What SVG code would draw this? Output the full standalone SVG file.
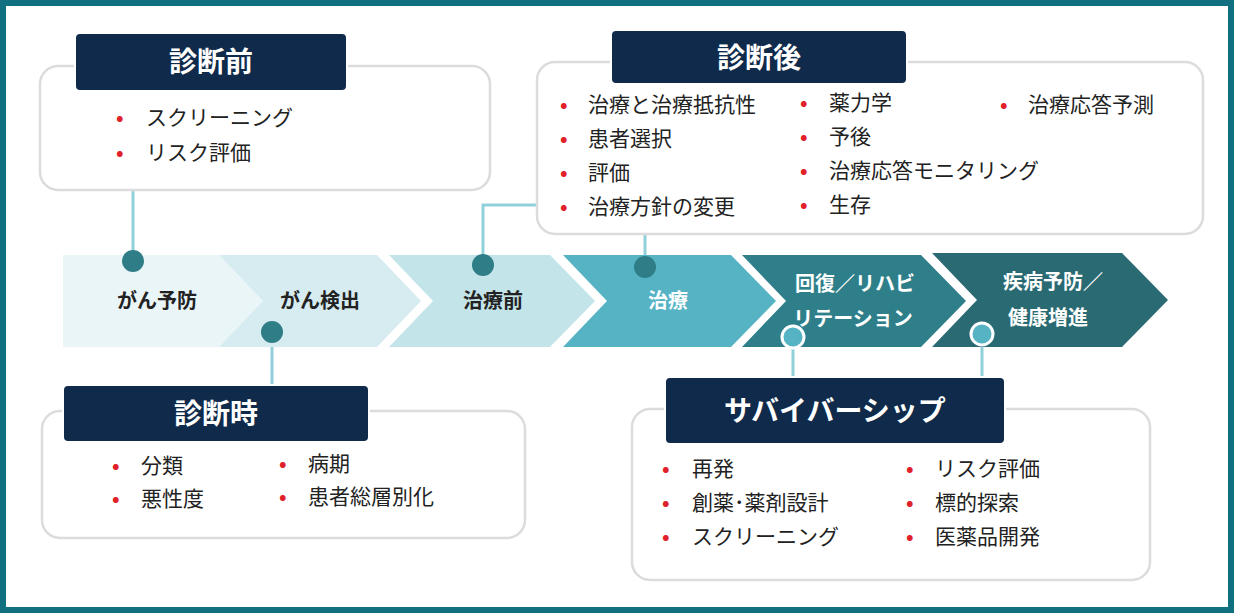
<svg xmlns="http://www.w3.org/2000/svg" width="1234" height="613" viewBox="0 0 1234 613">
<style>
text{font-family:"Noto Sans CJK JP","Noto Sans",sans-serif}
.box{fill:#fff;stroke:#dcdcdc;stroke-width:2.5}
.lbl{fill:#0f2a4a;stroke:#fff;stroke-width:2}
.lt{fill:#fff;font-size:28px;font-weight:bold;text-anchor:middle}
.it{fill:#222;font-size:21px}
.bl{fill:#e0202a;font-size:20px;font-weight:bold}
.st{font-size:20px;font-weight:bold;text-anchor:middle}
.ln{stroke:#8fd0da;stroke-width:3;fill:none}
.dd{fill:#2e7d87}
.hd{fill:#56b3c4;stroke:#fff;stroke-width:3}
</style>
<rect x="3" y="3" width="1228" height="607" fill="#fff" stroke="#11707f" stroke-width="6"/>
<g id="connectors">
<path class="ln" d="M133 190V261M555 205H483V265M645 225V267M272 332V385M793 347V377M982 347V377"/>
</g>
<g id="stages">
<path d="M63 255H219L263 301L219 347H63Z" fill="#eaf5f8"/>
<path d="M219 255H377L421 301L377 347H219L263 301Z" fill="#d6ecf1"/>
<path d="M389 255H550L595 301L550 347H389L433 301Z" fill="#c3e4e9"/>
<path d="M563 255H731L776 301L731 347H563L607 301Z" fill="#56b3c4"/>
<path d="M742 255H921L966 301L921 347H742L786 301Z" fill="#2e7f8a"/>
<path d="M932 253H1122L1168 300L1122 347H932L977 300Z" fill="#2a6a73"/>
<text class="st" x="157" y="308" fill="#222">がん予防</text>
<text class="st" x="320" y="308" fill="#222">がん検出</text>
<text class="st" x="493" y="308" fill="#222">治療前</text>
<text class="st" x="668" y="308" fill="#fff">治療</text>
<text class="st" x="855" y="291" fill="#fff">回復／リハビ</text>
<text class="st" x="853" y="326" fill="#fff">リテーション</text>
<text class="st" x="1053" y="289" fill="#fff">疾病予防／</text>
<text class="st" x="1048" y="325" fill="#fff">健康増進</text>
<circle class="dd" cx="133" cy="261" r="11"/>
<circle class="dd" cx="483" cy="265" r="11"/>
<circle class="dd" cx="645" cy="267" r="11"/>
<circle class="dd" cx="272" cy="332" r="11"/>
<circle class="hd" cx="793" cy="337" r="11"/>
<circle class="hd" cx="982" cy="334" r="11"/>
</g>
<g id="pre">
<rect class="box" x="40" y="66" width="450" height="124" rx="18"/>
<rect class="lbl" x="75" y="33" width="272" height="58" rx="5"/>
<text class="lt" x="211" y="72">診断前</text>
<text class="bl" x="116" y="125">•</text><text class="it" x="146" y="125">スクリーニング</text>
<text class="bl" x="116" y="160">•</text><text class="it" x="146" y="160">リスク評価</text>
</g>
<g id="post">
<rect class="box" x="537" y="62" width="666" height="172" rx="18"/>
<rect class="lbl" x="611" y="30" width="296" height="54" rx="5"/>
<text class="lt" x="759" y="68">診断後</text>
<text class="bl" x="560" y="112">•</text><text class="it" x="588" y="112">治療と治療抵抗性</text>
<text class="bl" x="560" y="146">•</text><text class="it" x="588" y="146">患者選択</text>
<text class="bl" x="560" y="180">•</text><text class="it" x="588" y="180">評価</text>
<text class="bl" x="560" y="214">•</text><text class="it" x="588" y="214">治療方針の変更</text>
<text class="bl" x="800" y="110">•</text><text class="it" x="829" y="110">薬力学</text>
<text class="bl" x="800" y="144">•</text><text class="it" x="829" y="144">予後</text>
<text class="bl" x="800" y="178">•</text><text class="it" x="829" y="178">治療応答モニタリング</text>
<text class="bl" x="800" y="212">•</text><text class="it" x="829" y="212">生存</text>
<text class="bl" x="1000" y="112">•</text><text class="it" x="1028" y="112">治療応答予測</text>
</g>
<g id="at">
<rect class="box" x="42" y="411" width="483" height="127" rx="18"/>
<rect class="lbl" x="63" y="385" width="306" height="57" rx="5"/>
<text class="lt" x="216" y="424">診断時</text>
<text class="bl" x="112" y="473">•</text><text class="it" x="141" y="473">分類</text>
<text class="bl" x="112" y="506">•</text><text class="it" x="141" y="506">悪性度</text>
<text class="bl" x="279" y="471">•</text><text class="it" x="308" y="471">病期</text>
<text class="bl" x="279" y="504">•</text><text class="it" x="308" y="504">患者総層別化</text>
</g>
<g id="surv">
<rect class="box" x="632" y="409" width="518" height="171" rx="18"/>
<rect class="lbl" x="665" y="377" width="340" height="67" rx="5"/>
<text class="lt" x="835" y="421">サバイバーシップ</text>
<text class="bl" x="662" y="476">•</text><text class="it" x="692" y="476">再発</text>
<text class="bl" x="662" y="510">•</text><text class="it" x="692" y="510">創薬･薬剤設計</text>
<text class="bl" x="662" y="544">•</text><text class="it" x="692" y="544">スクリーニング</text>
<text class="bl" x="906" y="476">•</text><text class="it" x="935" y="476">リスク評価</text>
<text class="bl" x="906" y="510">•</text><text class="it" x="935" y="510">標的探索</text>
<text class="bl" x="906" y="544">•</text><text class="it" x="935" y="544">医薬品開発</text>
</g>
</svg>
